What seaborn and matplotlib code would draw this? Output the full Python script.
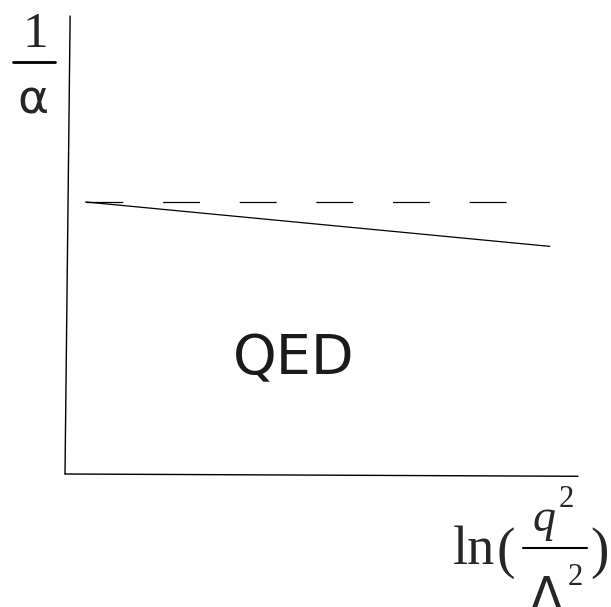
import matplotlib.pyplot as plt
import seaborn as sns
import pandas as pd

# schematic running of 1/alpha in QED
ln_q2 = [0.4, 9.45]
inv_alpha = [5.94, 4.97]

# constant reference (dashed)
ln_q2_ref = [0.4, 8.62]
inv_alpha_ref = [5.94, 5.94]

sns.set_theme(style="white")

fig = plt.figure(figsize=(6.11, 6.07), dpi=100)
W, H = 611, 607


def fx(px):
    return px / W


def fy(py):
    return 1 - py / H


# axes box in pixels: left 65, right 578, top 16, bottom 474
ax = fig.add_axes([fx(65), fy(474), (578 - 65) / W, (474 - 16) / H])
ax.set_xlim(0, 10)
ax.set_ylim(0, 10)
ax.set_xticks([])
ax.set_yticks([])
for s in ax.spines.values():
    s.set_visible(False)
ax.set_facecolor("white")

df = pd.DataFrame({"x": ln_q2, "y": inv_alpha})
df_ref = pd.DataFrame({"x": ln_q2_ref, "y": inv_alpha_ref})
sns.lineplot(data=df, x="x", y="y", ax=ax, color="black", lw=0.9)
sns.lineplot(data=df_ref, x="x", y="y", ax=ax, color="black", lw=0.9,
             linestyle=(0, (29.5, 31.8)))
ax.set_xlabel("")
ax.set_ylabel("")

# hand-drawn looking axes (slightly tilted)
ax.plot([0, 0.01], [0, 1], transform=ax.transAxes, color="black", lw=1.0, clip_on=False)
ax.plot([0, 1], [0, -0.005], transform=ax.transAxes, color="black", lw=1.0, clip_on=False)

ax.text(0.445, 0.25, "QED", transform=ax.transAxes, ha="center", va="center",
        fontsize=40, family="DejaVu Sans", color="#1a1a1a")

serif = "Liberation Serif"

# y label: 1 / alpha
fig.text(fx(35), fy(47), "1", ha="center", va="baseline", fontsize=37, family=serif)
fig.add_artist(plt.Line2D([fx(13), fx(55)], [fy(62), fy(62)],
                          transform=fig.transFigure, color="black", lw=2.0))
fig.text(fx(33), fy(113), "α", ha="center", va="baseline", fontsize=34,
         family="DejaVu Sans")

# x label: ln ( q^2 / Lambda^2 )
fig.text(fx(453), fy(564), "ln", ha="left", va="baseline", fontsize=39, family=serif)
fig.text(fx(506), fy(567), "(", ha="center", va="baseline", fontsize=40, family=serif)
fig.text(fx(599), fy(567), ")", ha="center", va="baseline", fontsize=40, family=serif)
fig.text(fx(544), fy(531), "q", ha="center", va="baseline", fontsize=33, family=serif,
         style="italic")
fig.text(fx(566), fy(507), "2", ha="center", va="baseline", fontsize=22, family=serif)
fig.add_artist(plt.Line2D([fx(523), fx(587)], [fy(548), fy(548)],
                          transform=fig.transFigure, color="black", lw=1.5))
fig.text(fx(546), fy(612), "Λ", ha="center", va="baseline", fontsize=35,
         family="DejaVu Sans")
fig.text(fx(575), fy(585), "2", ha="center", va="baseline", fontsize=22, family=serif)

fig.savefig("out.png", dpi=100, facecolor="white")
